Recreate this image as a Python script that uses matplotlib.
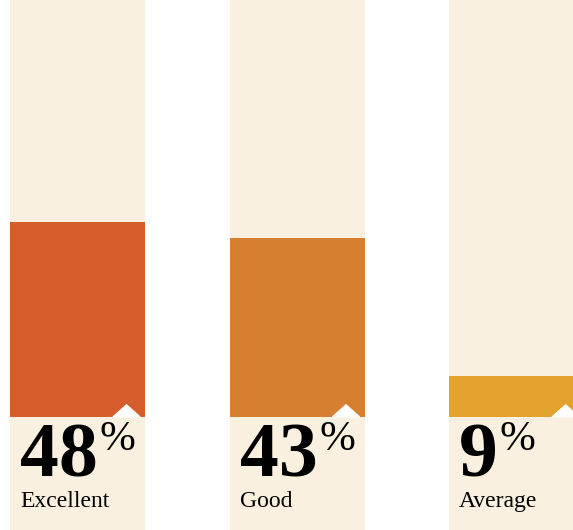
import matplotlib.pyplot as plt
from matplotlib.patches import Polygon
from matplotlib.transforms import offset_copy

categories = ["Excellent", "Good", "Average"]
labels = ["48", "43", "9"]           # printed percentages
heights = [48, 43.9, 10]             # bar heights as drawn (unrounded)
colors = ["#D45D2B", "#D77F31", "#E3A22E"]
cream = "#F9F0DF"

plt.rcParams['font.family'] = ['Liberation Serif', 'DejaVu Serif']

fig = plt.figure(figsize=(5.73, 5.30), dpi=100)
ax = fig.add_axes([0, 0, 1, 1])
ax.set_xlim(-0.353, 2.257)
ax.set_ylim(-27.8, 102.46)
ax.axis('off')

width = 0.615
x = list(range(len(categories)))

# background columns (full height incl. label area)
ax.bar(x, [130.26] * len(x), bottom=-27.8, width=width, color=cream, zorder=1)
bars = ax.bar(x, heights, width=width, color=colors, zorder=2)

fig.canvas.draw()
renderer = fig.canvas.get_renderer()

dx = 1 / 219.5  # one pixel in x data units
dy = 100 / 407  # one pixel in y data units

for xi, lab, cat in zip(x, labels, categories):
    left = xi - width / 2
    right = xi + width / 2
    # little white notch at the bottom right of the bar
    tri = Polygon([(right - 32 * dx, 0), (right - 5 * dx, 0), (right - 18.5 * dx, 12 * dy)],
                  closed=True, color="white", zorder=3)
    ax.add_patch(tri)

    tr = offset_copy(ax.transData, fig=fig, x=10, y=-60, units='dots')
    num = ax.text(left, 0, lab, transform=tr, fontsize=56, fontweight='bold',
                  ha='left', va='baseline', zorder=4)
    bb = num.get_window_extent(renderer)
    base_y = ax.transData.transform((left, 0))[1] - 60
    ax.text(bb.x1 + 2, base_y + 27, "%", transform=None, fontsize=31,
            ha='left', va='baseline', zorder=4)
    tr2 = offset_copy(ax.transData, fig=fig, x=10, y=-90, units='dots')
    ax.text(left, 0, cat, transform=tr2, fontsize=17, ha='left', va='baseline', zorder=4)

fig.savefig("out.png", dpi=100)
